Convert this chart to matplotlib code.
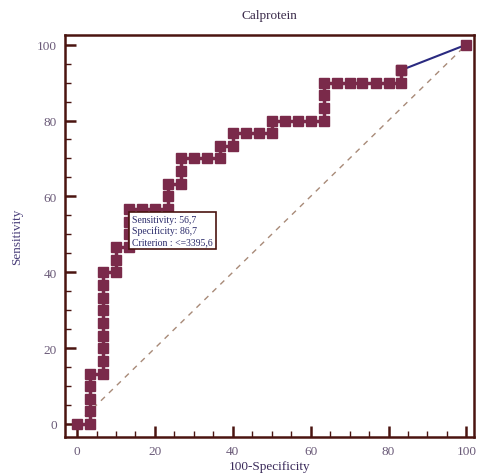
import numpy as np
import matplotlib.pyplot as plt

# ROC points (100-Specificity, Sensitivity)
fpr = [0, 3.3, 3.3, 3.3, 3.3, 3.3,
       6.7, 6.7, 6.7, 6.7, 6.7, 6.7, 6.7, 6.7, 6.7,
       10, 10, 10, 13.3, 13.3, 13.3, 13.3,
       16.7, 20, 23.3, 23.3, 23.3,
       26.7, 26.7, 26.7, 30, 33.3, 36.7, 36.7,
       40, 40, 43.3, 46.7, 50, 50,
       53.3, 56.7, 60, 63.3, 63.3, 63.3, 63.3,
       66.7, 70, 73.3, 76.7, 80, 83.3, 83.3, 100]
tpr = [0, 0, 3.3, 6.7, 10, 13.3,
       13.3, 16.7, 20, 23.3, 26.7, 30, 33.3, 36.7, 40,
       40, 43.3, 46.7, 46.7, 50, 53.3, 56.7,
       56.7, 56.7, 56.7, 60, 63.3,
       63.3, 66.7, 70, 70, 70, 70, 73.3,
       73.3, 76.7, 76.7, 76.7, 76.7, 80,
       80, 80, 80, 80, 83.3, 86.7, 90,
       90, 90, 90, 90, 90, 90, 93.3, 100]

title = 'Calprotein'
box_text = 'Sensitivity: 56,7\nSpecificity: 86,7\nCriterion : <=3395,6'

plt.rcParams['font.family'] = ['Liberation Serif', 'DejaVu Serif']

maroon = '#7a2a4a'
brown = '#4a1410'

fig = plt.figure(figsize=(4.78, 4.77), dpi=100)
ax = fig.add_axes([0.136, 0.082, 0.856, 0.843])

# diagonal reference
ax.plot([0, 100], [0, 100], linestyle=(0, (4, 4)), color='#a88a78', linewidth=1)

# ROC curve (last segment drawn in blue)
ax.plot(fpr[:-1], tpr[:-1], color=maroon, linewidth=2.5, marker='s',
        markersize=6.5, markerfacecolor=maroon, markeredgecolor=maroon, zorder=3)
ax.plot(fpr[-2:], tpr[-2:], color='#2a2a80', linewidth=1.5, zorder=2)
ax.plot(fpr[-2:], tpr[-2:], linestyle='none', marker='s', markersize=6.5,
        color=maroon, zorder=3)

ax.text(14.1, 55.2, box_text, fontsize=7, color='#2a2a6a', va='top', ha='left',
        linespacing=1.25, zorder=5,
        bbox=dict(boxstyle='square,pad=0.3', fc='white', ec=brown, lw=1.2))

ax.set_xlim(-3.1, 102)
ax.set_ylim(-3.4, 102.6)
ax.set_xticks(np.arange(0, 101, 20))
ax.set_yticks(np.arange(0, 101, 20))
ax.set_xticks(np.arange(0, 101, 5), minor=True)
ax.set_yticks(np.arange(0, 101, 5), minor=True)
ax.tick_params(which='major', direction='in', length=8, width=1.8, color=brown,
               labelsize=9.5, labelcolor='#6a5a78')
ax.tick_params(which='minor', direction='in', length=4, width=1, color=brown)
ax.tick_params(axis='x', pad=6)
ax.tick_params(axis='y', pad=6)
for s in ax.spines.values():
    s.set_color(brown)
    s.set_linewidth(1.8)

ax.set_title(title, fontsize=9.5, color='#3a2a4a', pad=12)
ax.set_xlabel('100-Specificity', fontsize=9.5, color='#3a2a5a', labelpad=2)
ax.set_ylabel('Sensitivity', fontsize=9.5, color='#4a3f7a', labelpad=10)

fig.savefig('out.png', dpi=100)
